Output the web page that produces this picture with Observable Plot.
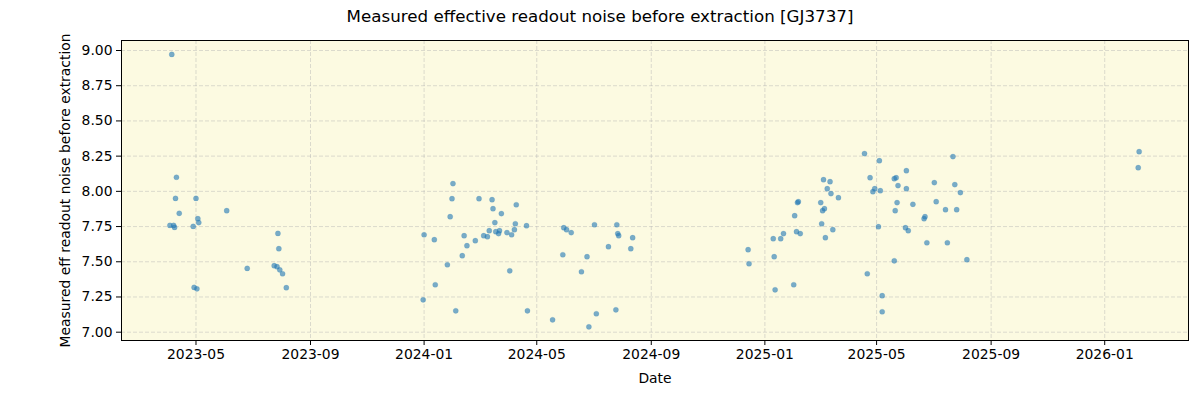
<!DOCTYPE html>
<html><head><meta charset="utf-8">
<script src="https://cdn.jsdelivr.net/npm/d3@7"></script>
<script src="https://cdn.jsdelivr.net/npm/@observablehq/plot@0.6"></script>
<style>
body{margin:0;background:#fff;font-family:"DejaVu Sans",sans-serif;}
#wrap{position:relative;width:1200px;height:400px;}
#title{position:absolute;top:6px;left:0;width:1200px;text-align:center;font-size:16.7px;color:#000;font-family:"DejaVu Sans";}
#chart{position:absolute;top:0;left:0;}
</style></head><body><div id="wrap"><div id="chart"></div><div id="title">Measured effective readout noise before extraction [GJ3737]</div></div>
<script>
const dates = [
"2023-04-05","2023-04-10","2023-04-09","2023-05-01","2023-04-13","2023-06-03","2023-05-03","2023-05-04","2023-04-03","2023-04-07",
"2023-04-08","2023-04-28","2023-07-28","2023-07-29","2023-06-25","2023-07-24","2023-07-27","2023-07-30","2023-08-02","2023-08-06",
"2023-04-29","2023-05-02",
"2024-02-01","2024-01-31","2024-02-29","2024-03-14","2024-03-15","2024-03-24","2024-04-09","2024-01-29","2024-03-17","2024-04-08",
"2024-04-20","2024-01-01","2024-01-12","2024-02-13","2024-03-11","2024-03-05","2024-03-09","2024-03-18","2024-03-22","2024-03-21",
"2024-03-30","2024-04-04","2024-04-07","2024-02-16","2024-02-25","2024-02-11","2024-01-26","2024-04-02","2024-01-13","2023-12-31",
"2024-02-04","2024-04-21","2024-05-18","2024-05-30","2024-06-02","2024-06-07","2024-07-02","2024-07-26","2024-07-27","2024-07-28",
"2024-08-12","2024-08-10","2024-07-17","2024-05-29","2024-06-24","2024-06-18","2024-07-25","2024-07-04","2024-06-26",
"2024-12-14","2024-12-15","2025-01-10","2025-01-18","2025-01-21","2025-01-11","2025-01-12","2025-02-01","2025-02-02","2025-02-04",
"2025-02-08","2025-02-05","2025-02-06","2025-03-02","2025-03-04","2025-03-06","2025-03-03","2025-03-07","2025-03-15","2025-03-05",
"2025-03-12","2025-03-09","2025-03-13","2025-03-21","2025-04-18","2025-04-21","2025-07-22","2025-05-04","2025-06-02","2025-04-24",
"2025-05-20","2025-05-22","2025-07-02","2025-07-24","2025-05-24","2025-04-29","2025-04-27","2025-05-05","2025-06-02","2025-07-30",
"2025-05-23","2025-06-09","2025-07-04","2025-05-21","2025-07-14","2025-07-26","2025-06-22","2025-06-21","2025-05-03","2025-06-01",
"2025-06-04","2025-06-24","2025-07-16","2025-08-06","2025-05-20","2025-05-07","2025-05-07",
"2026-02-07","2026-02-06"
];
const values = [
8.972,8.100,7.950,7.950,7.844,7.863,7.806,7.778,7.758,7.758,
7.744,7.751,7.701,7.593,7.453,7.472,7.465,7.443,7.415,7.316,
7.318,7.308,
8.055,7.948,7.948,7.941,7.877,7.842,7.905,7.820,7.778,7.770,
7.756,7.692,7.657,7.685,7.721,7.685,7.678,7.714,7.721,7.700,
7.707,7.692,7.728,7.614,7.650,7.543,7.479,7.436,7.337,7.230,
7.152,7.152,7.088,7.742,7.728,7.707,7.763,7.763,7.700,7.685,
7.671,7.593,7.607,7.550,7.536,7.429,7.159,7.131,7.038,
7.586,7.486,7.664,7.664,7.700,7.536,7.301,7.337,7.827,7.714,
7.700,7.920,7.927,7.920,7.863,7.877,7.770,7.671,7.728,8.083,
8.069,8.019,7.984,7.955,8.268,7.415,8.247,8.218,8.147,8.097,
8.090,8.097,8.062,8.048,8.041,8.019,7.998,8.005,8.019,7.991,
7.920,7.908,7.927,7.863,7.870,7.870,7.820,7.806,7.749,7.742,
7.721,7.635,7.635,7.515,7.507,7.259,7.145,
8.282,8.168
];
const xTickLabels = ["2023-05","2023-09","2024-01","2024-05","2024-09","2025-01","2025-05","2025-09","2026-01"];
const yTickValues = [7.00,7.25,7.50,7.75,8.00,8.25,8.50,8.75,9.00];
const xDomain = ["2023-02-10","2026-04-01"];
const yDomain = [6.941,9.071];
const titleText = "Measured effective readout noise before extraction [GJ3737]";
const xLabel = "Date";
const yLabel = "Measured eff readout noise before extraction";

const toDate = s => new Date(s + (s.length === 7 ? "-01" : "") + "T00:00:00Z");
const data = dates.map((d, i) => ({date: toDate(d), value: values[i]}));
const xTicks = xTickLabels.map(toDate);

const gridStyle = {stroke: "#b0b0b0", strokeOpacity: 0.55, strokeDasharray: "4,2", strokeWidth: 0.8};

const chart = Plot.plot({
  width: 1200, height: 400,
  marginLeft: 121, marginRight: 12, marginTop: 40, marginBottom: 60,
  style: {fontFamily: "DejaVu Sans", fontSize: "13.9px", background: "transparent", color: "#000"},
  x: {type: "utc", domain: xDomain.map(toDate)},
  y: {domain: yDomain},
  marks: [
    Plot.frame({fill: "#fcfae1", stroke: "none"}),
    Plot.gridX(xTicks, gridStyle),
    Plot.gridY(yTickValues, gridStyle),
    Plot.dot(data, {x: "date", y: "value", r: 2.6, fill: "#1f77b4", fillOpacity: 0.6, stroke: "#1f77b4", strokeOpacity: 0.3, strokeWidth: 0.5}),
    Plot.axisX(xTicks, {tickFormat: d3.utcFormat("%Y-%m"), tickSize: 5, tickPadding: 4, label: xLabel, labelAnchor: "center", labelArrow: "none", labelOffset: 42}),
    Plot.axisY(yTickValues, {tickFormat: d3.format(".2f"), tickSize: 5, tickPadding: 4, label: yLabel, labelAnchor: "center", labelArrow: "none", labelOffset: 61}),
    Plot.frame({stroke: "#000", strokeWidth: 1})
  ]
});
document.getElementById("chart").appendChild(chart);
document.getElementById("title").textContent = titleText;
</script>
</body></html>
